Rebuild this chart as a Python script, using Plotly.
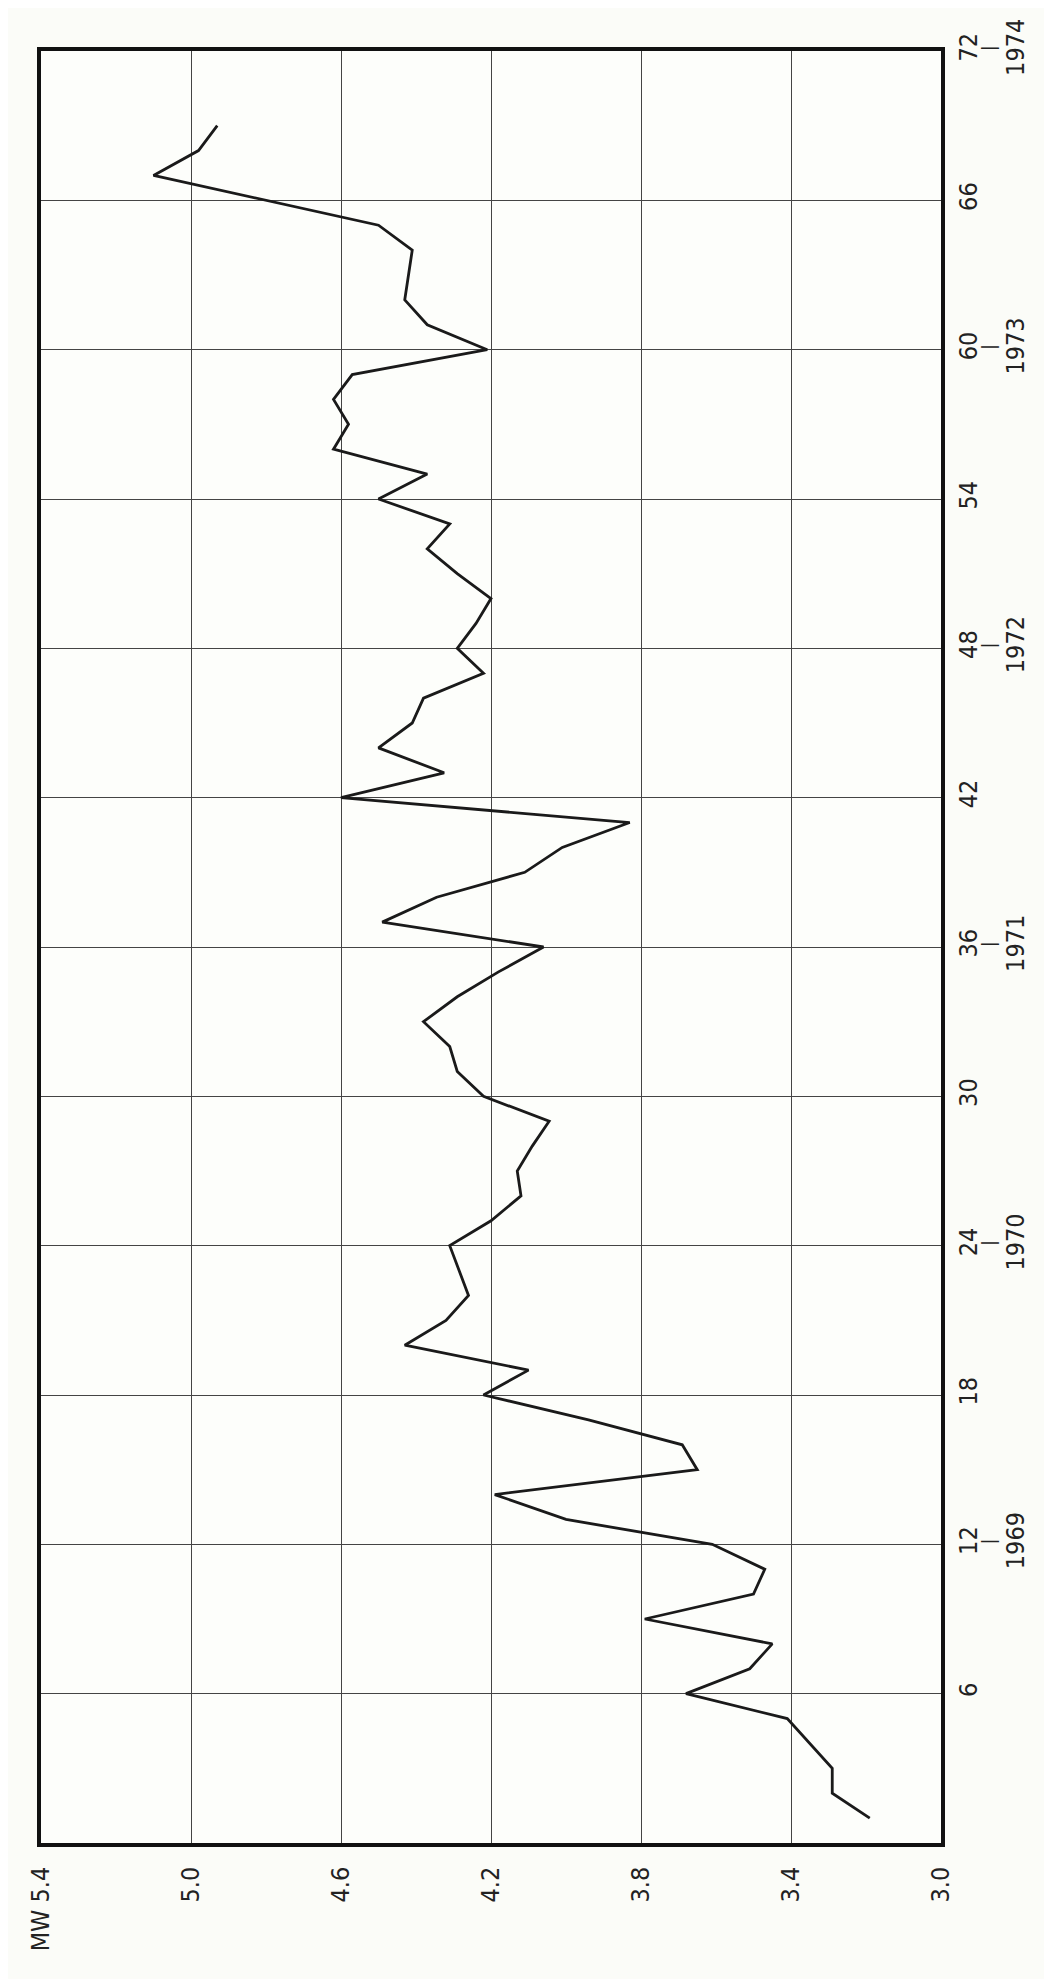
import plotly.graph_objects as go

# Month index (0 = start of 1968) and monthly MW values
months = [1, 2, 3, 5, 6, 7, 8, 9, 10, 11, 12, 13, 14, 15, 16, 17, 18, 19, 20, 21, 22,
          24, 25, 26, 27, 28, 29, 30, 31, 32, 33, 34, 35, 36, 37, 38, 39, 40, 41, 42,
          43, 44, 45, 46, 47, 48, 49, 50, 51, 52, 53, 54, 55, 56, 57, 58, 59, 60, 61,
          62, 63, 64, 65, 67, 68, 69]
mw = [3.19, 3.29, 3.29, 3.41, 3.68, 3.51, 3.45, 3.79, 3.50, 3.47, 3.61, 4.00, 4.19,
      3.65, 3.69, 3.94, 4.22, 4.10, 4.43, 4.32, 4.26,
      4.31, 4.20, 4.12, 4.13, 4.09, 4.045, 4.22, 4.29, 4.31, 4.38, 4.29, 4.18, 4.06,
      4.49, 4.345, 4.11, 4.01, 3.83, 4.60,
      4.325, 4.50, 4.41, 4.38, 4.22, 4.29, 4.24, 4.20, 4.29, 4.37, 4.31, 4.50, 4.37,
      4.62, 4.58, 4.62, 4.57, 4.21, 4.37,
      4.43, 4.42, 4.41, 4.50, 5.10, 4.98, 4.93]

mw_ticks = [3.0, 3.4, 3.8, 4.2, 4.6, 5.0, 5.4]
mw_ticktext = ["3.0", "3.4", "3.8", "4.2", "4.6", "5.0", "MW 5.4"]
month_ticks = [6, 12, 18, 24, 30, 36, 42, 48, 54, 60, 66, 72]
month_ticktext = ["6", "12", "18", "24", "30", "36", "42", "48", "54", "60", "66", "72"]
year_ticks = [12, 24, 36, 48, 60, 72]
year_ticktext = ["1969", "1970", "1971", "1972", "1973", "1974"]
sep_ticktext = ["|", "|", "|", "|", "|", "|"]

fig = go.Figure()
fig.add_trace(go.Scatter(x=mw, y=months, mode="lines",
                         line=dict(color="#1a1a1a", width=2.8), showlegend=False,
                         hoverinfo="skip"))
# invisible helpers so the overlaid label axes are drawn
for ax in ["y2", "y3"]:
    fig.add_trace(go.Scatter(x=[mw_ticks[0]], y=[month_ticks[0]], yaxis=ax, mode="markers",
                             marker=dict(opacity=0), showlegend=False, hoverinfo="skip"))

font = dict(family="Liberation Sans Narrow, DejaVu Sans Condensed, sans-serif",
            size=25, color="#222222")
sep_font = dict(family="DejaVu Sans Condensed, sans-serif", size=18, color="#222222")

yrange = [0, 72]
fig.update_layout(
    width=1052, height=1979,
    margin=dict(l=33, r=119, t=43, b=144),
    paper_bgcolor="#fbfcf8", plot_bgcolor="#fdfefb",
    font=font,
    xaxis=dict(range=[5.4, 3.0], tickvals=mw_ticks, ticktext=mw_ticktext,
               tickangle=-90, showgrid=True, gridcolor="#444444", gridwidth=1,
               zeroline=False, showline=True, linecolor="#111111", linewidth=3.5,
               mirror=True, ticks="outside", ticklen=10, tickcolor="rgba(0,0,0,0)",
               tickfont=font),
    yaxis=dict(range=yrange, tickvals=month_ticks, ticktext=month_ticktext,
               side="right", tickangle=-90, showgrid=True, gridcolor="#444444",
               gridwidth=1, zeroline=False, showline=True, linecolor="#111111",
               linewidth=3.5, mirror=True, ticks="", ticklabelstandoff=2,
               tickfont=font),
    yaxis2=dict(range=yrange, overlaying="y", anchor="x", side="right",
                tickvals=year_ticks, ticktext=sep_ticktext, tickangle=-90,
                showgrid=False, zeroline=False, showline=False, ticks="",
                ticklabelstandoff=35, tickfont=sep_font),
    yaxis3=dict(range=yrange, overlaying="y", anchor="x", side="right",
                tickvals=year_ticks, ticktext=year_ticktext, tickangle=-90,
                showgrid=False, zeroline=False, showline=False, ticks="",
                ticklabelstandoff=57, tickfont=font),
)

fig.write_html("out.html")
